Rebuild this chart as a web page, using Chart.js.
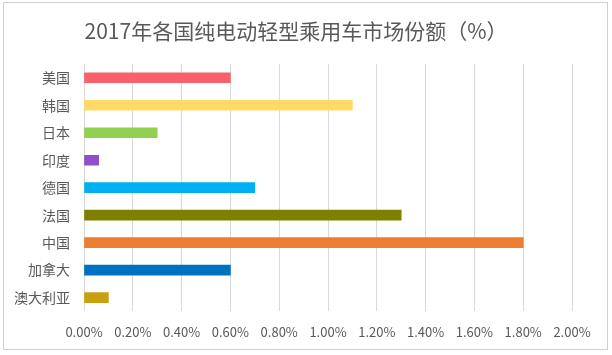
<!DOCTYPE html>
<html>
<head>
<meta charset="utf-8">
<script src="https://cdn.jsdelivr.net/npm/chart.js@4"></script>
<style>
html,body{margin:0;padding:0;background:#fff;}
#wrap{width:612px;height:355px;position:relative;}
</style>
</head>
<body>
<div id="wrap"><canvas id="c" width="612" height="355"></canvas></div>
<script>
const categories = ['美国','韩国','日本','印度','德国','法国','中国','加拿大','澳大利亚'];
const shares = [0.6, 1.1, 0.3, 0.06, 0.7, 1.3, 1.8, 0.6, 0.1];
const barColors = ['#F8606A','#FFD966','#92D050','#8E50C8','#00B0F0','#808000','#ED7D31','#0070C0','#C9A010'];
const xTicks = [0,0.2,0.4,0.6,0.8,1.0,1.2,1.4,1.6,1.8,2.0];
const titleText = '2017年各国纯电动轻型乘用车市场份额（%）';

const FONT = '"Noto Sans CJK SC","Noto Sans",sans-serif';
const decoPlugin = {
  id:'deco',
  beforeDraw(chart){
    const c = chart.ctx;
    c.save();
    c.fillStyle = '#fff';
    c.fillRect(0,0,chart.width,chart.height);
    c.strokeStyle = '#D0D0D0';
    c.lineWidth = 1;
    c.strokeRect(3.5,2.5,604,347);
    c.restore();
  },
  afterDraw(chart){
    const c = chart.ctx;
    c.save();
    c.fillStyle = '#595959';
    c.font = '21px ' + FONT;
    c.textAlign = 'center';
    c.textBaseline = 'middle';
    c.fillText(titleText, 296, 31);
    c.restore();
  }
};

new Chart(document.getElementById('c'), {
  type:'bar',
  data:{
    labels: categories,
    datasets:[{data: shares, backgroundColor: barColors, barThickness: 10}]
  },
  options:{
    indexAxis:'y',
    responsive:false,
    animation:false,
    layout:{padding:{left:0,right:40,top:64,bottom:2}},
    plugins:{
      legend:{display:false},
      tooltip:{enabled:false},
      title:{display:false}
    },
    scales:{
      x:{
        min:0,max:2.0,
        afterBuildTicks(s){ s.ticks = xTicks.map(v=>({value:v})); },
        grid:{color:'#D9D9D9',drawTicks:false},
        border:{display:false},
        ticks:{padding:13,color:'#595959',font:{family:FONT,size:13},
          callback:(v)=>Number(v).toFixed(2)+'%'}
      },
      y:{
        grid:{display:false},
        border:{display:false},
        afterFit(s){ s.width = 84; },
        ticks:{padding:6,color:'#595959',font:{family:FONT,size:14}}
      }
    }
  },
  plugins:[decoPlugin]
});
</script>
</body>
</html>
